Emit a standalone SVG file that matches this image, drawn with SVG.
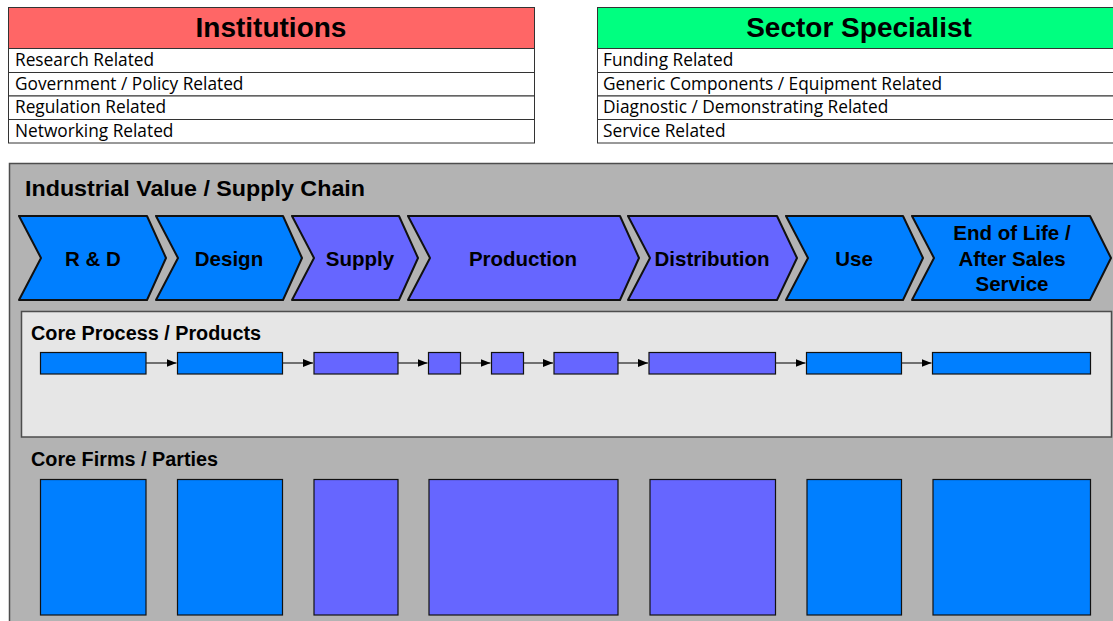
<svg xmlns="http://www.w3.org/2000/svg" width="1113" height="621" viewBox="0 0 1113 621">
<defs>
<marker id="ah" viewBox="0 0 10 10" refX="10" refY="5" markerWidth="10" markerHeight="10" markerUnits="userSpaceOnUse" orient="auto">
<path d="M0,1 L10,5 L0,9 z" fill="#000"/>
</marker>
</defs>
<style>
.tbl{fill:#fff;stroke:#333;stroke-width:1}
.row{font-family:"Open Sans","Noto Sans",sans-serif;font-size:17.3px;fill:#000}
.hdr{font-family:"Liberation Sans",Arial,sans-serif;font-weight:bold;font-size:28px;fill:#000;text-anchor:middle}
.ttl{font-family:"Liberation Sans",Arial,sans-serif;font-weight:bold;fill:#000}
.chev{stroke:#111;stroke-width:2;stroke-linejoin:round}
.blue{fill:#007fff}
.purp{fill:#6666ff}
.ctx{font-family:"Liberation Sans",Arial,sans-serif;font-weight:bold;font-size:20.5px;fill:#000;text-anchor:middle}
.box{stroke:#111;stroke-width:1.2}
.conn{stroke:#222;stroke-width:1.2;fill:none;marker-end:url(#ah)}
</style>

<g id="institutions">
<rect x="8.5" y="7.5" width="526" height="41" fill="#ff6666" stroke="#333"/>
<text class="hdr" x="271" y="37">Institutions</text>
<rect class="tbl" x="8.5" y="48.5" width="526" height="24"/>
<rect class="tbl" x="8.5" y="72.5" width="526" height="23.5"/>
<rect class="tbl" x="8.5" y="96" width="526" height="23.5"/>
<rect class="tbl" x="8.5" y="119.5" width="526" height="23.5"/>
<text class="row" x="15" y="66">Research Related</text>
<text class="row" x="15" y="90">Government / Policy Related</text>
<text class="row" x="15" y="113">Regulation Related</text>
<text class="row" x="15" y="137">Networking Related</text>
</g>

<g id="sector-specialist">
<rect x="597.5" y="7.5" width="530" height="41" fill="#00ff80" stroke="#333"/>
<text class="hdr" x="859" y="37">Sector Specialist</text>
<rect class="tbl" x="597.5" y="48.5" width="530" height="24"/>
<rect class="tbl" x="597.5" y="72.5" width="530" height="23.5"/>
<rect class="tbl" x="597.5" y="96" width="530" height="23.5"/>
<rect class="tbl" x="597.5" y="119.5" width="530" height="23.5"/>
<text class="row" x="603" y="66">Funding Related</text>
<text class="row" x="603" y="90">Generic Components / Equipment Related</text>
<text class="row" x="603" y="113">Diagnostic / Demonstrating Related</text>
<text class="row" x="603" y="137">Service Related</text>
</g>

<g id="value-chain">
<rect x="9.5" y="163.5" width="1120" height="470" fill="#b3b3b3" stroke="#4d4d4d" stroke-width="1.5"/>
<text class="ttl" x="25" y="196" font-size="22.5" textLength="340" lengthAdjust="spacingAndGlyphs">Industrial Value / Supply Chain</text>
</g>

<g id="stage-rd"><path class="chev blue" d="M19,216 L147,216 L166,258 L147,300 L19,300 L41,258 z"/><text class="ctx" x="93" y="266">R &amp; D</text></g>
<g id="stage-design"><path class="chev blue" d="M156,216 L283,216 L302,258 L283,300 L156,300 L178,258 z"/><text class="ctx" x="229" y="266">Design</text></g>
<g id="stage-supply"><path class="chev purp" d="M292,216 L399,216 L418,258 L399,300 L292,300 L314,258 z"/><text class="ctx" x="360" y="266">Supply</text></g>
<g id="stage-production"><path class="chev purp" d="M408,216 L620,216 L639,258 L620,300 L408,300 L430,258 z"/><text class="ctx" x="523" y="266">Production</text></g>
<g id="stage-distribution"><path class="chev purp" d="M628,216 L777,216 L797,258 L777,300 L628,300 L650,258 z"/><text class="ctx" x="712" y="266">Distribution</text></g>
<g id="stage-use"><path class="chev blue" d="M786,216 L903,216 L923,258 L903,300 L786,300 L808,258 z"/><text class="ctx" x="854" y="266">Use</text></g>
<g id="stage-eol"><path class="chev blue" d="M912,216 L1090,216 L1111,258 L1090,300 L912,300 L934,258 z"/><text class="ctx" x="1012" y="240">End of Life /</text><text class="ctx" x="1012" y="266">After Sales</text><text class="ctx" x="1012" y="291">Service</text></g>

<g id="core-process">
<rect x="21.5" y="311.5" width="1090" height="125.5" fill="#e6e6e6" stroke="#4d4d4d" stroke-width="1.5"/>
<text class="ttl" x="31" y="340" font-size="19.5" textLength="230" lengthAdjust="spacingAndGlyphs">Core Process / Products</text>
</g>
<g id="p1"><rect class="box blue" x="40.5" y="352.5" width="105.5" height="21.5"/></g>
<g id="p2"><rect class="box blue" x="177.5" y="352.5" width="105" height="21.5"/></g>
<g id="p3"><rect class="box purp" x="314" y="352.5" width="84" height="21.5"/></g>
<g id="p4"><rect class="box purp" x="428.5" y="352.5" width="32" height="21.5"/></g>
<g id="p5"><rect class="box purp" x="491.5" y="352.5" width="32" height="21.5"/></g>
<g id="p6"><rect class="box purp" x="554" y="352.5" width="64" height="21.5"/></g>
<g id="p7"><rect class="box purp" x="649" y="352.5" width="126.5" height="21.5"/></g>
<g id="p8"><rect class="box blue" x="806.5" y="352.5" width="95" height="21.5"/></g>
<g id="p9"><rect class="box blue" x="932.5" y="352.5" width="158" height="21.5"/></g>

<g id="connectors">
<line class="conn" x1="146" y1="363" x2="176.5" y2="363"/>
<line class="conn" x1="282.5" y1="363" x2="313" y2="363"/>
<line class="conn" x1="398" y1="363" x2="427.5" y2="363"/>
<line class="conn" x1="460.5" y1="363" x2="490.5" y2="363"/>
<line class="conn" x1="523.5" y1="363" x2="553" y2="363"/>
<line class="conn" x1="618" y1="363" x2="648" y2="363"/>
<line class="conn" x1="775.5" y1="363" x2="805.5" y2="363"/>
<line class="conn" x1="901.5" y1="363" x2="931.5" y2="363"/>
</g>

<g id="core-firms">
<text class="ttl" x="31" y="466" font-size="19.5" textLength="187" lengthAdjust="spacingAndGlyphs">Core Firms / Parties</text>
</g>
<g id="f1"><rect class="box blue" x="40.5" y="479.5" width="105.5" height="135.5"/></g>
<g id="f2"><rect class="box blue" x="177.5" y="479.5" width="105" height="135.5"/></g>
<g id="f3"><rect class="box purp" x="314" y="479.5" width="84" height="135.5"/></g>
<g id="f4"><rect class="box purp" x="429" y="479.5" width="189" height="135.5"/></g>
<g id="f5"><rect class="box purp" x="650" y="479.5" width="125.5" height="135.5"/></g>
<g id="f6"><rect class="box blue" x="807" y="479.5" width="94.5" height="135.5"/></g>
<g id="f7"><rect class="box blue" x="933" y="479.5" width="157.5" height="135.5"/></g>
</svg>
